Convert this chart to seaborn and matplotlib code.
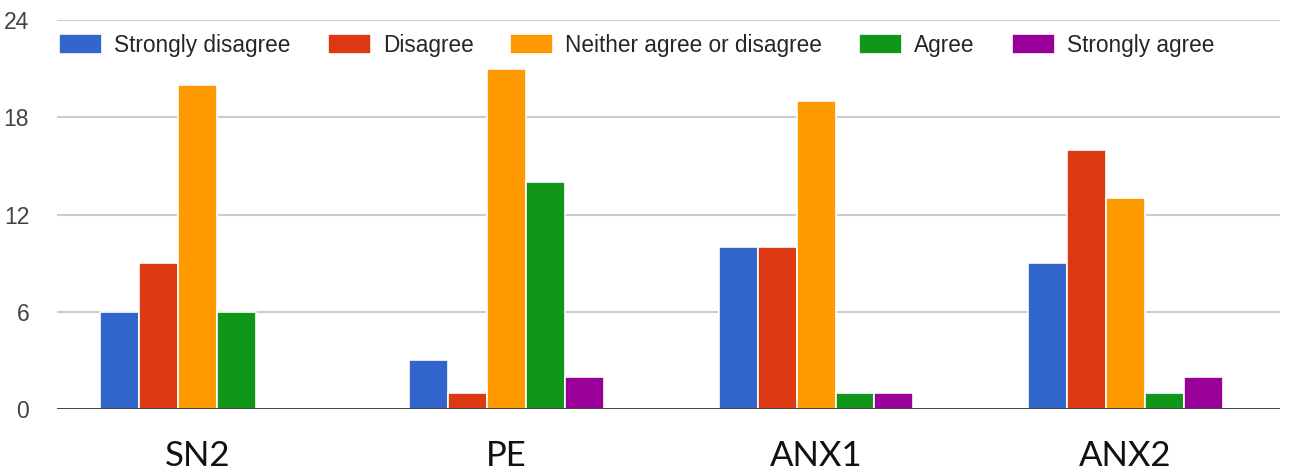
import matplotlib
matplotlib.use('Agg')
import matplotlib.pyplot as plt
import seaborn as sns
import pandas as pd

CATEGORIES = ['SN2', 'PE', 'ANX1', 'ANX2']
RESPONSES = ['Strongly disagree', 'Disagree', 'Neither agree or disagree', 'Agree', 'Strongly agree']
COLORS = ['#3366CC', '#DC3912', '#FF9900', '#109618', '#990099']

strongly_disagree = [6, 3, 10, 9]
disagree = [9, 1, 10, 16]
neither = [20, 21, 19, 13]
agree = [6, 14, 1, 1]
strongly_agree = [0, 2, 1, 2]

Y_TICKS = [0, 6, 12, 18, 24]

series = [strongly_disagree, disagree, neither, agree, strongly_agree]
rows = []
for resp, vals in zip(RESPONSES, series):
    for cat, v in zip(CATEGORIES, vals):
        rows.append({'question': cat, 'response': resp, 'count': v})
df = pd.DataFrame(rows)

sns.set_style('white')
plt.rcParams['font.family'] = ['Liberation Sans', 'DejaVu Sans']

fig = plt.figure(figsize=(12.89, 4.72), dpi=100)
ax = fig.add_axes([57 / 1289, 1 - 409 / 472, (1280 - 57) / 1289, (409 - 20) / 472])

sns.barplot(data=df, x='question', y='count', hue='response', hue_order=RESPONSES,
            order=CATEGORIES, palette=COLORS, width=0.63, edgecolor='white',
            linewidth=1.2, saturation=1, ax=ax, errorbar=None)

ax.set_xlim(-0.454, 3.5)
ax.set_ylim(0, 24)
ax.set_yticks(Y_TICKS)
ax.set_yticklabels([str(t) for t in Y_TICKS], fontsize=16.5, color='#444444')
ax.tick_params(axis='y', length=0, pad=20)
ax.tick_params(axis='x', length=0, pad=22)
for lab in ax.get_xticklabels():
    lab.set_fontfamily(['Lato', 'DejaVu Sans'])
    lab.set_fontsize(25)
    lab.set_color('#111111')
ax.set_xlabel('')
ax.set_ylabel('')

for t in Y_TICKS[1:]:
    ax.axhline(t, color='#cccccc', linewidth=1.5, zorder=0)
ax.axhline(0, color='#333333', linewidth=2, zorder=3)
for s in ax.spines.values():
    s.set_visible(False)

handles, labels = ax.get_legend_handles_labels()
ax.legend(handles, labels, ncol=5, loc='center left', bbox_to_anchor=(0.002, 0.935),
          frameon=False, fontsize=16.3, handlelength=1.9, handleheight=0.97,
          handletextpad=0.53, columnspacing=1.63, borderaxespad=0, borderpad=0)

fig.savefig('out.png', dpi=100)
